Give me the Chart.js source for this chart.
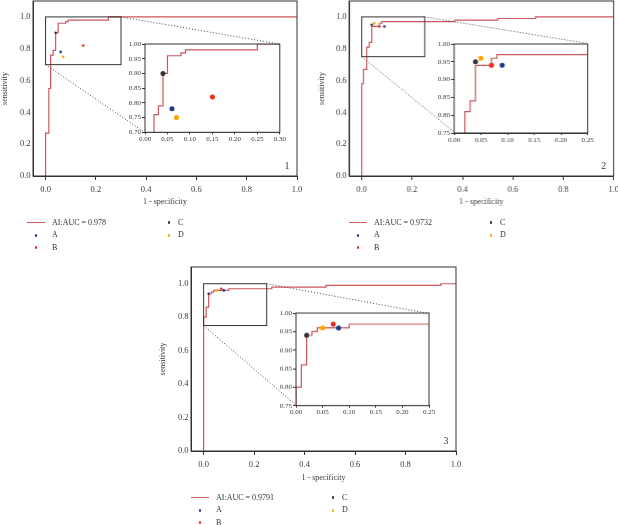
<!DOCTYPE html>
<html>
<head>
<meta charset="utf-8">
<script src="https://cdn.jsdelivr.net/npm/chart.js@4.4.1/dist/chart.umd.min.js"></script>
<style>
  body { margin: 0; width: 618px; height: 525px; overflow: hidden; background: #fff; position: relative; font-family: "Liberation Serif", serif; color: #333; }
  .box { position: absolute; }
  .sw { position: absolute; }
  .leg { position: absolute; font-size: 8px; line-height: 10px; height: 10px; white-space: nowrap; color: #333; }
</style>
</head>
<body>
<script>
const methods = ['A', 'B', 'C', 'D'];
const methodColors = ['#1c3a87', '#f0281e', '#383434', '#ffa500'];
const aucLabels = ['AI:AUC = 0.978', 'AI:AUC = 0.9732', 'AI:AUC = 0.9791'];
const panelNames = ['1', '2', '3'];

// ROC step vertices: from each vertex the curve rises first, then runs right to the next one
const rocX1 = [0, 0.013, 0.02, 0.03, 0.04, 0.05, 0.08, 0.09, 0.25, 1.0];
const rocY1 = [0, 0.27, 0.55, 0.76, 0.79, 0.90, 0.96, 0.97, 0.98, 1.0];
const rocX2 = [0, 0.007, 0.02, 0.03, 0.04, 0.07, 0.08, 0.37, 0.54, 0.69, 1.0];
const rocY2 = [0, 0.58, 0.67, 0.81, 0.84, 0.94, 0.96, 0.97, 0.98, 0.99, 1.0];
const rocX3 = [0, 0.01, 0.02, 0.03, 0.04, 0.10, 0.27, 0.485, 0.94, 1.0];
const rocY3 = [0, 0.80, 0.86, 0.94, 0.95, 0.96, 0.97, 0.98, 0.99, 1.0];

// readers A, B, C, D
const ptX1 = [0.06, 0.15, 0.04, 0.07];
const ptY1 = [0.78, 0.82, 0.90, 0.75];
const ptX2 = [0.09, 0.07, 0.04, 0.05];
const ptY2 = [0.94, 0.94, 0.95, 0.96];
const ptX3 = [0.08, 0.07, 0.02, 0.05];
const ptY3 = [0.96, 0.97, 0.94, 0.96];

const mainTicks = [0, 0.2, 0.4, 0.6, 0.8, 1.0];
const insetXTicks1 = [0, 0.05, 0.10, 0.15, 0.20, 0.25, 0.30];
const insetYTicks1 = [0.70, 0.75, 0.80, 0.85, 0.90, 0.95, 1.00];
const insetXTicks23 = [0, 0.05, 0.10, 0.15, 0.20, 0.25];
const insetYTicks23 = [0.75, 0.80, 0.85, 0.90, 0.95, 1.00];

const serif = '"Liberation Serif", "Times New Roman", serif';
const rocColor = '#c9595c';
const frameColor = '#333';
const textColor = '#3a3a3a';

const panels = [
  { roc: [rocX1, rocY1], pts: [ptX1, ptY1], auc: aucLabels[0], name: panelNames[0],
    xTicks: insetXTicks1, yTicks: insetYTicks1,
    area: [33, 1, 297, 176], margin: [33, 1, 13, 31],
    insetArea: [144.5, 44, 279.3, 132.3], legend: [27, 222.7] },
  { roc: [rocX2, rocY2], pts: [ptX2, ptY2], auc: aucLabels[1], name: panelNames[1],
    xTicks: insetXTicks23, yTicks: insetYTicks23,
    area: [349, 1, 612.7, 176], margin: [32, 1, 24, 31],
    insetArea: [454.3, 43.5, 587, 132.5], legend: [349, 222.7] },
  { roc: [rocX3, rocY3], pts: [ptX3, ptY3], auc: aucLabels[2], name: panelNames[2],
    xTicks: insetXTicks23, yTicks: insetYTicks23,
    area: [191, 266.7, 456, 450.7], margin: [33, 1, 13, 32],
    insetArea: [296.3, 313.3, 429.3, 405], legend: [191, 497.7] }
];

function place(area, margin) {
  const [l, t, r, b] = area, [ml, mt, mr, mb] = margin;
  const div = document.createElement('div');
  div.className = 'box';
  Object.assign(div.style, {
    left: (l - ml) + 'px', top: (t - mt) + 'px',
    width: (r - l + ml + mr) + 'px', height: (b - t + mt + mb) + 'px'
  });
  const cv = document.createElement('canvas');
  div.appendChild(cv);
  document.body.appendChild(div);
  return cv;
}

function axis(o) {
  return {
    type: 'linear', min: o.min, max: o.max,
    afterBuildTicks: s => { s.ticks = o.ticks.map(v => ({ value: v })); },
    afterFit: s => {
      if (o.horizontal) s.height = o.size; else s.width = o.size;
      s.paddingLeft = s.paddingRight = s.paddingTop = s.paddingBottom = 0;
    },
    grid: { drawOnChartArea: false, drawTicks: o.tickLen > 0, tickLength: o.tickLen, color: frameColor, lineWidth: 1 },
    border: { display: true, color: frameColor, width: 1 },
    ticks: { font: { family: serif, size: o.font }, color: textColor, padding: o.pad, maxRotation: 0, autoSkip: false,
             callback: v => Number(v).toFixed(o.digits) },
    title: { display: !!o.title, text: o.title || '', font: { family: serif, size: 8 }, color: textColor, padding: 0 }
  };
}

// turn step vertices into the corners of the staircase (up, then right)
function rocSet(roc) {
  const [xs, ys] = roc;
  const data = [{ x: xs[0], y: ys[0] }];
  for (let i = 1; i < xs.length; i++) {
    data.push({ x: xs[i - 1], y: ys[i] }, { x: xs[i], y: ys[i] });
  }
  return {
    type: 'line', data,
    borderColor: rocColor, borderWidth: 1.2, pointRadius: 0, tension: 0, fill: false
  };
}

function pointSets(pts, r) {
  return methods.map((m, i) => ({
    type: 'scatter', label: m, data: [{ x: pts[0][i], y: pts[1][i] }],
    pointRadius: r, pointBackgroundColor: methodColors[i], pointBorderWidth: 0, showLine: false
  }));
}

const baseOpts = {
  responsive: true, maintainAspectRatio: false, animation: false, events: [],
  plugins: { legend: { display: false }, tooltip: { enabled: false } }
};

function insetChart(p) {
  const margin = [20, 5, 9, 12];
  const cv = place(p.insetArea, margin);
  const xt = p.xTicks, yt = p.yTicks;
  return new Chart(cv, {
    type: 'scatter',
    data: { datasets: [...pointSets(p.pts, 2.5), rocSet(p.roc)] },
    options: Object.assign({}, baseOpts, {
      layout: { autoPadding: false, padding: { left: 0, top: margin[1], right: margin[2], bottom: 0 } },
      scales: {
        x: axis({ min: xt[0], max: xt[xt.length - 1], ticks: xt, digits: 2, font: 7, tickLen: 2, pad: 0.5, size: margin[3], horizontal: true }),
        y: axis({ min: yt[0], max: yt[yt.length - 1], ticks: yt, digits: 2, font: 7, tickLen: 3, pad: 1, size: margin[0] })
      }
    }),
    plugins: [{
      id: 'insetFrame',
      beforeDatasetsDraw(chart) {
        const { ctx, chartArea: a } = chart;
        ctx.save();
        ctx.fillStyle = '#fff';
        ctx.fillRect(a.left, a.top, a.right - a.left, a.bottom - a.top);
        ctx.restore();
      },
      afterDatasetsDraw(chart) {
        const { ctx, chartArea: a } = chart;
        ctx.save();
        ctx.strokeStyle = frameColor; ctx.lineWidth = 1;
        ctx.strokeRect(a.left, a.top, a.right - a.left, a.bottom - a.top);
        ctx.restore();
      }
    }]
  });
}

function framePlugin(p, inset) {
  return {
    id: 'frame',
    afterDatasetsDraw(chart) {
      const { ctx, chartArea: a, scales: { x, y } } = chart;
      ctx.save();
      ctx.strokeStyle = frameColor; ctx.lineWidth = 1;
      ctx.strokeRect(a.left, a.top, a.right - a.left, a.bottom - a.top);
      const zx0 = x.getPixelForValue(p.xTicks[0]), zx1 = x.getPixelForValue(p.xTicks[p.xTicks.length - 1]);
      const zy0 = y.getPixelForValue(p.yTicks[0]), zy1 = y.getPixelForValue(p.yTicks[p.yTicks.length - 1]);
      ctx.strokeRect(zx0, zy1, zx1 - zx0, zy0 - zy1);
      const c0 = chart.canvas.getBoundingClientRect(), c1 = inset.canvas.getBoundingClientRect();
      const dx = c1.left - c0.left, dy = c1.top - c0.top, ia = inset.chartArea;
      ctx.setLineDash([1, 2]); ctx.strokeStyle = '#444';
      ctx.beginPath();
      ctx.moveTo(zx1, zy1); ctx.lineTo(ia.right + dx, ia.top + dy);
      ctx.moveTo(zx0, zy0); ctx.lineTo(ia.left + dx, ia.bottom + dy);
      ctx.stroke();
      ctx.setLineDash([]);
      ctx.fillStyle = textColor;
      ctx.font = '10px ' + serif;
      ctx.textAlign = 'center'; ctx.textBaseline = 'middle';
      ctx.fillText(p.name, a.right - 10, a.bottom - 10);
      ctx.restore();
    }
  };
}

function mainChart(p, inset) {
  const cv = place(p.area, p.margin);
  return new Chart(cv, {
    type: 'scatter',
    data: { datasets: [...pointSets(p.pts, 1.3), rocSet(p.roc)] },
    options: Object.assign({}, baseOpts, {
      layout: { autoPadding: false, padding: { left: 0, top: p.margin[1], right: p.margin[2], bottom: 0 } },
      scales: {
        x: axis({ min: -0.05, max: 1.0, ticks: mainTicks, digits: 1, font: 8.5, tickLen: 4, pad: 5, size: p.margin[3], horizontal: true, title: '1 - specificity' }),
        y: axis({ min: 0, max: 1.1, ticks: mainTicks, digits: 1, font: 8.5, tickLen: 0, pad: 2.5, size: p.margin[0], title: 'sensitivity' })
      }
    }),
    plugins: [framePlugin(p, inset)]
  });
}

function legend(p) {
  const [x0, y0] = p.legend;
  const rowH = 12.5;
  const items = [{ label: p.auc, line: true }].concat(methods.map((m, i) => ({ label: m, color: methodColors[i] })));
  items.forEach((it, k) => {
    const col = Math.floor(k / 3), row = k % 3;
    const y = y0 + row * rowH;
    const sw = document.createElement('div');
    sw.className = 'sw';
    if (it.line) {
      Object.assign(sw.style, { left: x0 + 'px', top: (y - 0.6) + 'px', width: '18px', height: '1.2px', background: rocColor });
    } else {
      const dx = col === 0 ? 9 : 142;
      Object.assign(sw.style, { left: (x0 + dx - 1.4) + 'px', top: (y - 1.4) + 'px', width: '2.8px', height: '2.8px', borderRadius: '50%', background: it.color });
    }
    document.body.appendChild(sw);
    const tx = document.createElement('div');
    tx.className = 'leg';
    tx.textContent = it.label;
    Object.assign(tx.style, { left: (x0 + (col === 0 ? 25 : 151)) + 'px', top: (y - 5) + 'px' });
    document.body.appendChild(tx);
  });
}

panels.forEach(p => {
  const inset = insetChart(p);
  mainChart(p, inset);
  legend(p);
});
</script>
</body>
</html>
